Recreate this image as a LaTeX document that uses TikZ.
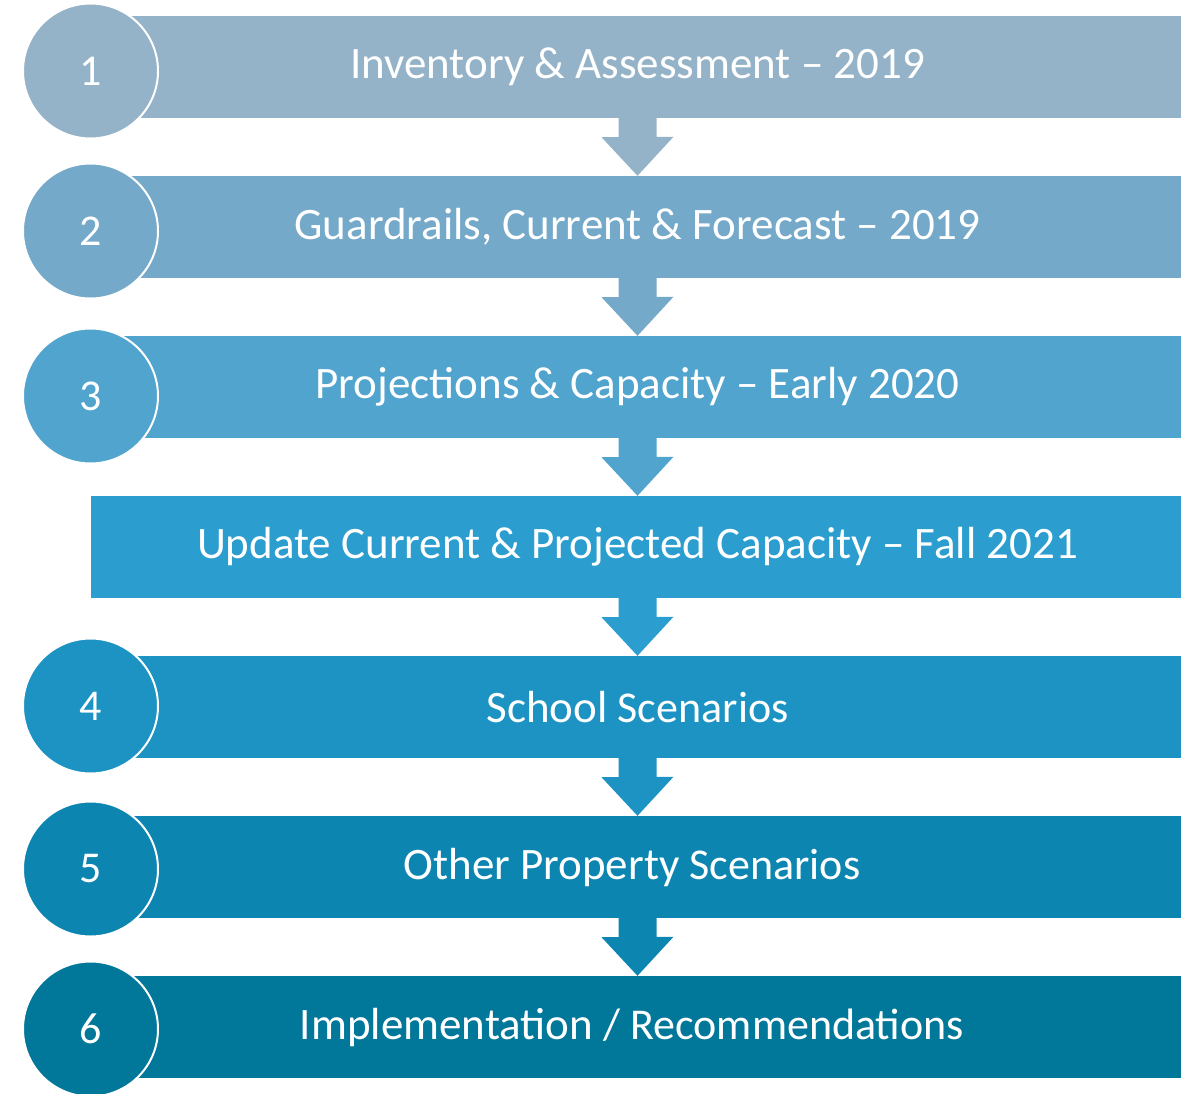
\documentclass[tikz,border=0pt]{standalone}
\usepackage{fontspec}
\setmainfont{Carlito}
\definecolor{k1}{HTML}{95B3C8}
\definecolor{k2}{HTML}{74A9C9}
\definecolor{k3}{HTML}{50A4CE}
\definecolor{ku}{HTML}{2B9ECF}
\definecolor{k4}{HTML}{1C93C3}
\definecolor{k5}{HTML}{0D85B1}
\definecolor{k6}{HTML}{017799}
\begin{document}
\begin{tikzpicture}[x=1pt,y=1pt,
  bar/.style={rectangle,inner sep=0pt,minimum height=102pt},
  numc/.style={circle,inner sep=0pt,minimum size=135pt,draw=white,line width=2pt,text=white,font=\fontsize{44}{50}\selectfont},
  lbl/.style={text=white,inner sep=0pt,font=\fontsize{45}{54}\selectfont},
]
\newcommand{\lite}[1]{{\fontsize{44}{52}\selectfont #1}}
\useasboundingbox (0,0) rectangle (1181,-1094);
\coordinate (ax) at (637.5,0);
% bars
\node[bar,fill=k1,minimum width=1061pt] (b1) at (650.5,-67) {};
\node[bar,fill=k2,minimum width=1061pt] (b2) at (650.5,-227) {};
\node[bar,fill=k3,minimum width=1061pt] (b3) at (650.5,-387) {};
\node[bar,fill=ku,minimum width=1090pt] (bu) at (636,-547) {};
\node[bar,fill=k4,minimum width=1061pt] (b4) at (650.5,-707) {};
\node[bar,fill=k5,minimum width=1061pt] (b5) at (650.5,-867) {};
\node[bar,fill=k6,minimum width=1061pt] (b6) at (650.5,-1027) {};
% arrows
\foreach \a/\b/\c in {b1/b2/k1,b2/b3/k2,b3/bu/k3,bu/b4/ku,b4/b5/k4,b5/b6/k5}{
  \fill[\c] (\a.south -| ax) ++(-19,1) -- ++(0,-20) -- ++(-17,0) -- (\b.north -| ax) -- ++(36,39) -- ++(-17,0) -- ++(0,20) -- cycle;
}
% circles
\node[numc,fill=k1] (c1) at (90.5,-71) {1};
\node[numc,fill=k2] (c2) at (90.5,-231) {2};
\node[numc,fill=k3] (c3) at (90.5,-396) {3};
\node[numc,fill=k4] (c4) at (90.5,-706) {4};
\node[numc,fill=k5] (c5) at (90.5,-869) {5};
\node[numc,fill=k6] (c6) at (90.5,-1029) {6};
% labels
\node[lbl] (t1) at (637.5,-67) {Inventory \& Assessment – 2019};
\node[lbl] (t2) at (637.5,-227) {Guardrails, Current \& Forecast – 2019};
\node[lbl] (t3) at (637.5,-387) {Projections \& Capacity – Early 2020};
\node[lbl] (tu) at (637.5,-547) {Update Current \& Projected Capacity – Fall 2021};
\node[lbl] (t4) at (637.5,-707) {School \lite{Scenarios}};
\node[lbl] (t5) at (632,-867) {Other Property \lite{Scenarios}};
\node[lbl] (t6) at (632,-1027) {Implementation \lite{/ Recommendations}};
\end{tikzpicture}
\end{document}
